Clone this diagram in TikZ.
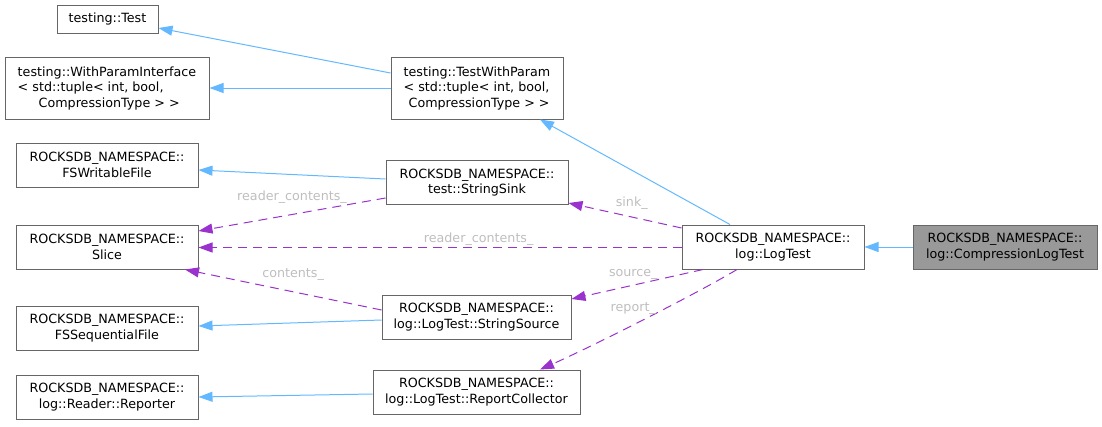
\documentclass[tikz,border=0pt]{standalone}
\usepackage{fontspec}
\setmainfont{DejaVu Sans}
\usetikzlibrary{arrows.meta}
\definecolor{edgeblue}{HTML}{63B8FF}
\definecolor{edgepurple}{HTML}{9A32CD}
\definecolor{boxgray}{HTML}{666666}
\definecolor{selgray}{HTML}{999999}
\definecolor{lblgray}{HTML}{BEBEBE}

\begin{document}
\begin{tikzpicture}[
  x=1pt, y=-1pt,
  font=\fontsize{12.7}{15.5}\selectfont,
  cls/.style={draw=boxgray, line width=1pt, fill=white, minimum width=182pt, minimum height=44pt, inner xsep=4pt, inner ysep=2pt, align=center},
  sel/.style={cls, fill=selgray},
  inh/.style={-{Triangle[length=14pt,width=10pt]}, draw=edgeblue, line width=1pt},
  use/.style={inh, draw=edgepurple, dash pattern=on 9pt off 6pt},
  lbl/.style={text=lblgray, inner sep=0pt}
]
  \useasboundingbox (0,0) rectangle (1102,426);

  % left column
  \node[cls, minimum width=101pt, minimum height=28pt] (test) at (107.5,19) {testing::Test};
  \node[cls, minimum width=204pt, minimum height=62pt, align=left] (wpi) at (107,88) {testing::WithParamInterface\\< std::tuple< int, bool,\\\hspace*{21pt}CompressionType > >};
  \node[cls] (fsw) at (107,165) {ROCKSDB\_NAMESPACE::\\FSWritableFile};
  \node[cls] (slice) at (107,247) {ROCKSDB\_NAMESPACE::\\Slice};
  \node[cls] (fsseq) at (107,328) {ROCKSDB\_NAMESPACE::\\FSSequentialFile};
  \node[cls] (rep) at (107,397) {ROCKSDB\_NAMESPACE::\\log::Reader::Reporter};

  % middle column
  \node[cls, minimum width=172pt, minimum height=62pt, align=left] (twp) at (477,88) {testing::TestWithParam\\< std::tuple< int, bool,\\\hspace*{5pt}CompressionType > >};
  \node[cls] (sink) at (477,182.5) {ROCKSDB\_NAMESPACE::\\test::StringSink};
  \node[cls, minimum width=189pt] (src) at (476.5,317) {ROCKSDB\_NAMESPACE::\\log::LogTest::StringSource};
  \node[cls, minimum width=207pt] (rc) at (476.5,392) {ROCKSDB\_NAMESPACE::\\log::LogTest::ReportCollector};

  % right
  \node[cls] (lt) at (773,247) {ROCKSDB\_NAMESPACE::\\log::LogTest};
  \node[sel, minimum width=184pt] (clt) at (1005,247) {ROCKSDB\_NAMESPACE::\\log::CompressionLogTest};

  % inheritance
  \draw[inh] ([yshift=15pt]twp.west) -- ([yshift=-9pt]test.east);
  \draw[inh] (twp.west) -- (wpi.east);
  \draw[inh] ([yshift=3.5pt]sink.west) -- ([yshift=-5pt]fsw.east);
  \draw[inh] ([yshift=-3pt]src.west) -- ([yshift=2pt]fsseq.east);
  \draw[inh] ([yshift=-2pt]rc.west) -- (rep.east);
  \draw[inh] ([xshift=-43pt]lt.north) -- ([xshift=63pt]twp.south);
  \draw[inh] (clt) -- (lt);

  % usage
  \draw[use] ([yshift=19pt]lt.west) -- ([yshift=2pt]sink.south east) node[lbl, pos=0.44, yshift=14pt] {sink\_};
  \draw[use] ([yshift=-0.5pt]lt.west) -- ([yshift=-0.5pt]slice.east) node[lbl, pos=0.42, yshift=8pt] {reader\_contents\_};
  \draw[use] ([yshift=-15.5pt]sink.west) -- ([yshift=16pt]slice.east) node[lbl, pos=0.5, yshift=17.5pt] {reader\_contents\_};
  \draw[use] ([yshift=7pt]src.west) -- ([xshift=78pt]slice.south) node[lbl, pos=0.45, yshift=17.6pt] {contents\_};
  \draw[use] ([xshift=-70pt]lt.south) -- ([yshift=18pt]src.east) node[lbl, pos=0.53, yshift=11pt] {source\_};
  \draw[use] ([xshift=-36pt]lt.south) .. controls +(-40,24) and +(50,-22) .. ([xshift=63.5pt]rc.north) node[lbl, pos=0.5, xshift=-9pt, yshift=12pt] {report\_};
\end{tikzpicture}
\end{document}
